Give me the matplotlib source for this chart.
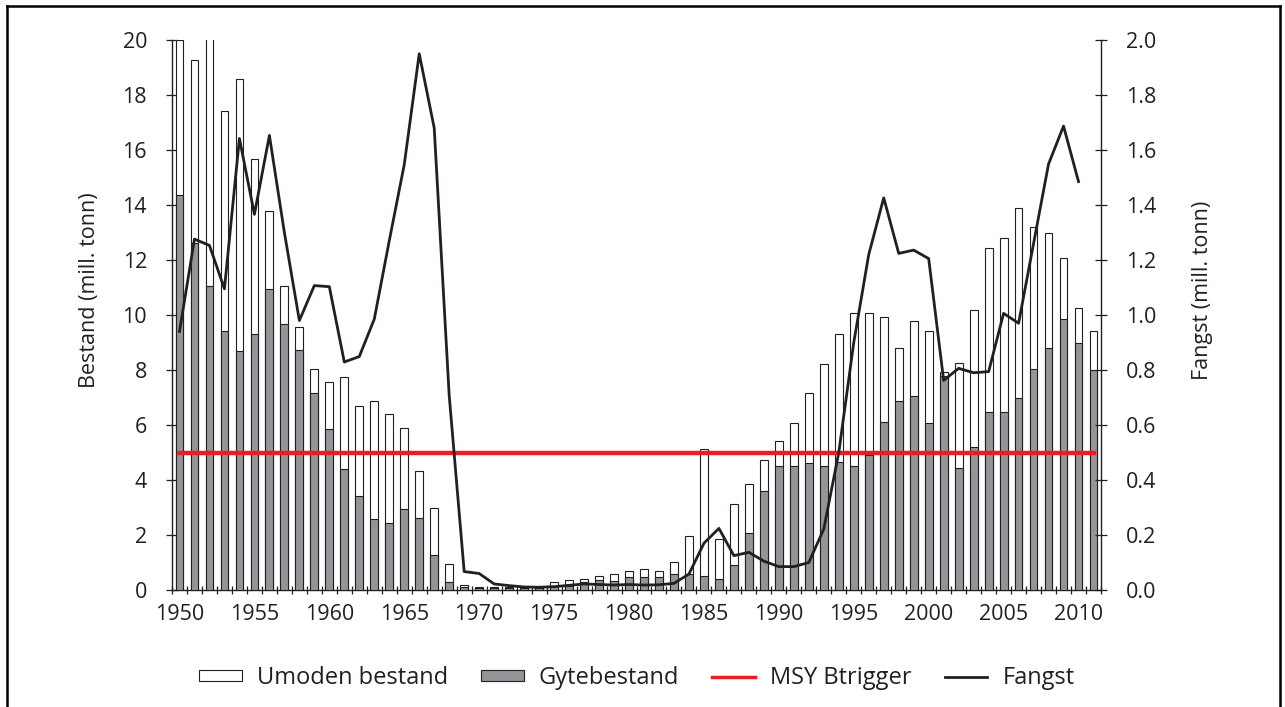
import matplotlib
matplotlib.use("Agg")
import matplotlib.pyplot as plt
import numpy as np
from matplotlib.patches import Patch
from matplotlib.lines import Line2D

plt.rcParams['font.family'] = ['Open Sans', 'DejaVu Sans']

# data (mill. tonn)
years = list(range(1950, 2012))
total_stock = [20.0, 19.27, 22.0, 17.43, 18.59, 15.68, 13.78, 11.05, 9.55, 8.04,
               7.56, 7.74, 6.70, 6.88, 6.41, 5.88, 4.34, 3.00, 0.93, 0.17,
               0.11, 0.11, 0.10, 0.10, 0.10, 0.28, 0.35, 0.41, 0.52, 0.58,
               0.69, 0.75, 0.69, 1.03, 1.96, 5.14, 1.84, 3.12, 3.87, 4.73,
               5.43, 6.06, 7.18, 8.22, 9.31, 10.06, 10.06, 9.94, 8.79, 9.78,
               9.43, 7.92, 8.26, 10.18, 12.45, 12.79, 13.88, 13.19, 12.97, 12.08,
               10.24, 9.43]
spawning_stock = [14.37, 12.63, 11.04, 9.43, 8.69, 9.32, 10.95, 9.68, 8.73, 7.18,
                  5.84, 4.40, 3.41, 2.59, 2.42, 2.95, 2.62, 1.28, 0.30, 0.10,
                  0.07, 0.07, 0.06, 0.06, 0.07, 0.15, 0.13, 0.30, 0.36, 0.34,
                  0.46, 0.48, 0.48, 0.59, 0.60, 0.52, 0.40, 0.91, 2.09, 3.60,
                  4.52, 4.52, 4.63, 4.52, 4.64, 4.51, 4.90, 6.12, 6.87, 7.07,
                  6.08, 7.80, 4.45, 5.21, 6.48, 6.48, 6.99, 8.04, 8.79, 9.84,
                  8.97, 8.00]
catch_years = list(range(1950, 2011))
catch = [0.94, 1.276, 1.253, 1.095, 1.642, 1.366, 1.653, 1.30, 0.98, 1.107,
         1.103, 0.829, 0.849, 0.985, 1.27, 1.547, 1.95, 1.68, 0.707, 0.067,
         0.06, 0.022, 0.016, 0.011, 0.01, 0.012, 0.017, 0.022, 0.02, 0.018,
         0.02, 0.018, 0.019, 0.024, 0.058, 0.17, 0.224, 0.125, 0.137, 0.105,
         0.085, 0.085, 0.10, 0.222, 0.50, 0.90, 1.22, 1.426, 1.224, 1.236,
         1.205, 0.762, 0.806, 0.79, 0.794, 1.006, 0.97, 1.26, 1.549, 1.687,
         1.485]
msy_btrigger = 5.0
label_years = list(range(1950, 2011, 5))

dark = '#231f20'
grey = '#939598'
red = '#ed1c24'

W, H = 1285, 707
fig = plt.figure(figsize=(W / 100, H / 100), dpi=100)
ax = fig.add_axes([172 / W, 1 - 590 / H, (1101 - 172) / W, 550 / H])

x = np.arange(len(years))
ax.bar(x, total_stock, width=0.52, color='white', edgecolor=dark, linewidth=0.8, zorder=2)
ax.bar(x, spawning_stock, width=0.52, color=grey, edgecolor=dark, linewidth=0.8, zorder=3)
ax.plot([x[0], x[-1]], [msy_btrigger, msy_btrigger], color=red, lw=3.2, zorder=4)

ax.set_xlim(-0.5, len(years) - 0.5)
ax.set_ylim(0, 20)
ax.set_yticks(range(0, 21, 2))
ax.set_xticks([years.index(y) for y in label_years])
ax.set_xticklabels([str(y) for y in label_years])
ax.set_xticks(np.arange(-0.5, len(years), 1), minor=True)
ax.tick_params(axis='x', which='major', length=0, pad=10, labelsize=15.5, colors=dark)
ax.tick_params(axis='x', which='minor', direction='inout', length=6, width=0.9, color=dark)
ax.tick_params(axis='y', direction='inout', length=8, width=0.9, pad=14, labelsize=15.5, colors=dark)
for s in ['top', 'right']:
    ax.spines[s].set_visible(False)
for s in ['left', 'bottom']:
    ax.spines[s].set_color(dark)
    ax.spines[s].set_linewidth(1.0)
ax.set_ylabel('Bestand (mill. tonn)', fontsize=15.5, color=dark)
ax.yaxis.set_label_coords(-0.078, 0.545)

ax2 = ax.twinx()
cx = [years.index(y) for y in catch_years]
ax2.plot(cx, catch, color=dark, lw=2.0, zorder=5)
ax2.set_ylim(0, 2.0)
ax2.set_yticks(np.arange(0, 2.01, 0.2))
ax2.set_yticklabels([f'{v:.1f}' for v in np.arange(0, 2.01, 0.2)])
ax2.tick_params(axis='y', direction='inout', length=8, width=0.9, pad=14, labelsize=15.5, colors=dark)
for s in ['top', 'left', 'bottom']:
    ax2.spines[s].set_visible(False)
ax2.spines['right'].set_color(dark)
ax2.spines['right'].set_linewidth(1.0)
ax2.set_ylabel('Fangst (mill. tonn)', fontsize=15.5, color=dark)
ax2.yaxis.set_label_coords(1.098, 0.545)

handles = [Patch(facecolor='white', edgecolor=dark, linewidth=0.8),
           Patch(facecolor=grey, edgecolor=dark, linewidth=0.8),
           Line2D([], [], color=red, lw=2.5),
           Line2D([], [], color=dark, lw=2.0)]
labels = ['Umoden bestand', 'Gytebestand', 'MSY Btrigger', 'Fangst']
fig.legend(handles, labels, loc='center', bbox_to_anchor=(637 / W, 1 - 678 / H),
           ncol=4, frameon=False, fontsize=17, handlelength=1.8, handleheight=0.35,
           columnspacing=1.4, handletextpad=0.65, labelcolor=dark)

# frame around the figure
lw_frame = 1.8
fig.add_artist(Line2D([7 / W, 7 / W], [0, 1 - 6 / H], color='black', lw=lw_frame))
fig.add_artist(Line2D([1280 / W, 1280 / W], [0, 1 - 6 / H], color='black', lw=lw_frame))
fig.add_artist(Line2D([7 / W, 1280 / W], [1 - 6 / H, 1 - 6 / H], color='black', lw=lw_frame))

fig.savefig('out.png', dpi=100)
